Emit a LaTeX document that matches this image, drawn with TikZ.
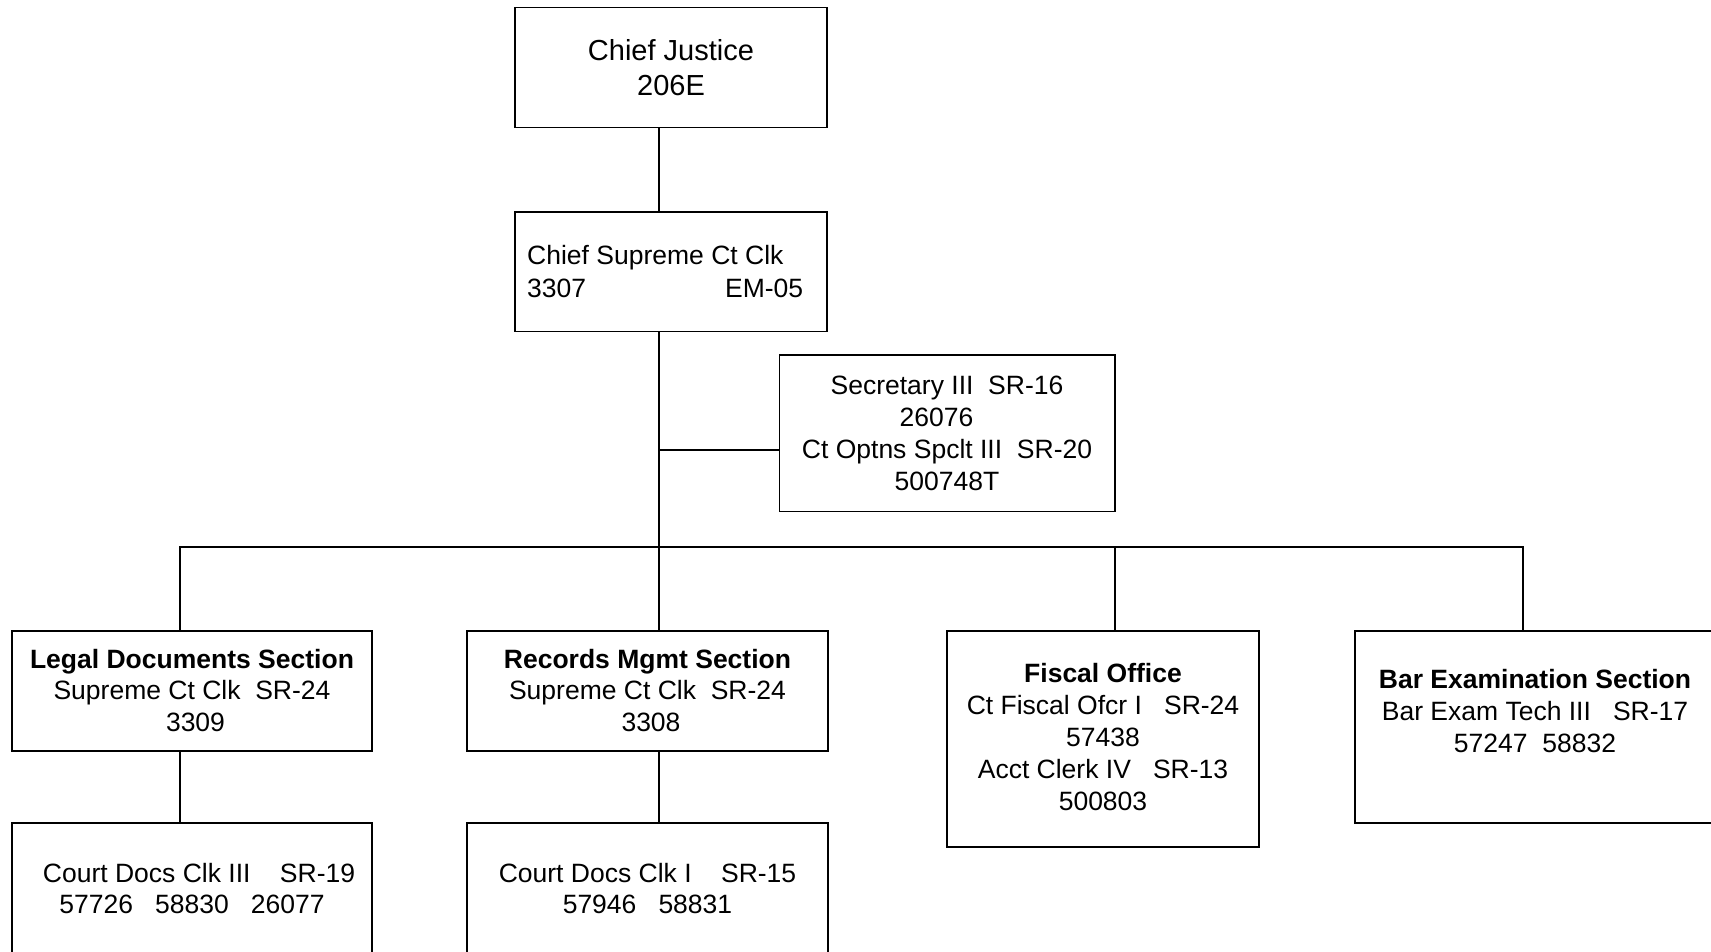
\documentclass[tikz,border=0pt]{standalone}
\usepackage{fontspec}
\setmainfont{Liberation Sans}
\newcommand{\mystrut}{\rule[-7pt]{0pt}{30pt}}
\begin{document}
\begin{tikzpicture}[x=1pt,y=-1pt,
  box/.style={draw, line width=1.8pt, inner sep=0pt, rectangle},
  txt/.style={inner sep=0pt, align=center, anchor=north, font=\fontsize{26.5}{32}\selectfont},
  link/.style={line width=1.8pt}]
\fill[white] (0,0) rectangle (1711,952);
\useasboundingbox (0,0) rectangle (1711,952);

% boxes
\node[box, minimum width=312, minimum height=120] (cj) at (671,67.6) {};
\node[box, minimum width=312, minimum height=119.5] (ccc) at (671,271.7) {};
\node[box, minimum width=335.5, minimum height=156.5] (sec) at (947.2,433.2) {};
\node[box, minimum width=360, minimum height=120] (legal) at (192,691) {};
\node[box, minimum width=361, minimum height=120] (rec) at (647.5,691) {};
\node[box, minimum width=312, minimum height=216] (fis) at (1103,739) {};
\node[box, minimum width=360, minimum height=192] (bar) at (1535,727) {};
\node[box, minimum width=360, minimum height=134] (cd3) at (192,890) {};
\node[box, minimum width=361, minimum height=134] (cd1) at (647.5,890) {};

% texts
\node[txt, font=\fontsize{29}{35}\selectfont] (cj-t) at (671,37) {\mystrut Chief Justice\\\mystrut 206E};
\node[txt, anchor=north west, align=left, font=\fontsize{26.5}{33.5}\selectfont] (ccc-t) at (527,241)
  {\mystrut Chief Supreme Ct Clk\\\mystrut\makebox[276pt]{3307\hfill EM-05}};
\node[txt] (sec-t) at (947,371)
  {\mystrut Secretary~III~~SR-16\\\mystrut 26076\hspace*{21pt}\mbox{}\\\mystrut Ct~Optns~Spclt~III~~SR-20\\\mystrut 500748T};
\node[txt, font=\fontsize{26.5}{31.5}\selectfont] (legal-t) at (192,645)
  {\mystrut\textbf{Legal Documents Section}\\\mystrut Supreme~Ct~Clk~~SR-24\\\mystrut\hspace*{7pt}3309};
\node[txt, font=\fontsize{26.5}{31.5}\selectfont] (rec-t) at (647.5,645)
  {\mystrut\textbf{Records Mgmt Section}\\\mystrut Supreme~Ct~Clk~~SR-24\\\mystrut\hspace*{7pt}3308};
\node[txt] (fis-t) at (1103,659)
  {\mystrut\textbf{Fiscal Office}\\\mystrut Ct~Fiscal~Ofcr~I~~~SR-24\\\mystrut 57438\\\mystrut Acct~Clerk~IV~~~SR-13\\\mystrut 500803};
\node[txt] (bar-t) at (1535,665)
  {\mystrut\textbf{Bar Examination Section}\\\mystrut Bar~Exam~Tech~III~~~SR-17\\\mystrut 57247~~58832};
\node[txt, font=\fontsize{26.5}{31.5}\selectfont] (cd3-t) at (192,859)
  {\mystrut\hspace*{14pt}Court~Docs~Clk~III~~~~SR-19\\\mystrut 57726~~~58830~~~26077};
\node[txt, font=\fontsize{26.5}{31.5}\selectfont] (cd1-t) at (647.5,859)
  {\mystrut Court~Docs~Clk~I~~~~SR-15\\\mystrut 57946~~~58831};

% connectors
\coordinate (tx) at (659,0);
\coordinate (sj) at (659,450);
\coordinate (busL) at (180,547);
\coordinate (busR) at (1523,547);
\coordinate (fx) at (1115,547);
\draw[link] (cj.south -| tx) -- (ccc.north -| tx);
\draw[link] (ccc.south -| tx) -- (rec.north -| tx);
\draw[link] (sj) -- (sj -| sec.west);
\draw[link] (busL |- legal.north) -- (busL) -- (busR) -- (busR |- bar.north);
\draw[link] (fx) -- (fx |- fis.north);
\draw[link] (legal.south -| busL) -- (cd3.north -| busL);
\draw[link] (rec.south -| tx) -- (cd1.north -| tx);
\end{tikzpicture}
\end{document}
